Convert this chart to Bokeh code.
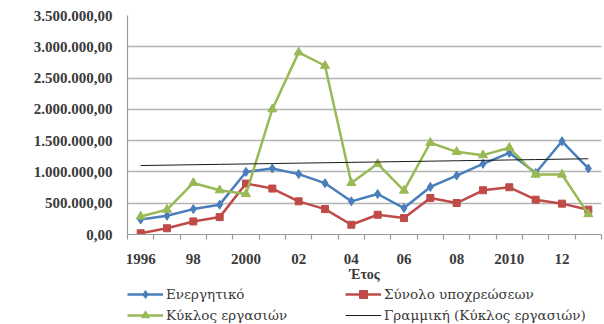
import numpy as np
from bokeh.plotting import figure
from bokeh.layouts import column
from bokeh.models import (FixedTicker, SingleIntervalTicker, CustomJSTickFormatter,
                          Legend, LegendItem, Label)
from bokeh.embed import file_html
from bokeh.resources import INLINE

years = list(range(1996, 2014))
energitiko = [240000, 300000, 406000, 477000, 1000000, 1055000, 965000, 820000, 530000,
              647000, 423000, 760000, 942000, 1129000, 1305000, 984000, 1490000, 1055000]
ypoxreoseis = [20000, 100000, 209000, 278000, 814000, 734000, 530000, 406000, 156000,
               316000, 262000, 583000, 503000, 707000, 755000, 557000, 493000, 397000]
kyklos = [289000, 397000, 824000, 707000, 647000, 2002000, 2911000, 2697000, 824000,
          1129000, 702000, 1466000, 1321000, 1268000, 1386000, 958000, 958000, 326000]
tick_years = [1996, 1998, 2000, 2002, 2004, 2006, 2008, 2010, 2012]
tick_labels = ["1996", "98", "2000", "02", "04", "06", "08", "2010", "12"]

names = ["Ενεργητικό", "Σύνολο υποχρεώσεων", "Κύκλος εργασιών", "Γραμμική (Κύκλος εργασιών)"]

BLUE = "#4A7EBB"
RED = "#BE4B48"
GREEN = "#98B954"
TXT = "#3a3a3a"
SERIF = "Liberation Serif"
LSERIF = "DejaVu Serif"

p = figure(width=604, height=284, output_backend="svg", toolbar_location=None,
           x_range=(1995.5, 2013.5), y_range=(0, 3500000))
p.min_border_left = 127
p.min_border_right = 3
p.min_border_top = 15
p.min_border_bottom = 0
p.outline_line_color = None
p.background_fill_color = "white"
p.border_fill_color = "white"

# grid
p.xgrid.grid_line_color = None
p.ygrid.grid_line_color = "#b4b4b4"
p.ygrid.grid_line_width = 1.5
p.ygrid.ticker = SingleIntervalTicker(interval=500000)

# y axis
p.yaxis.ticker = SingleIntervalTicker(interval=500000)
p.yaxis.formatter = CustomJSTickFormatter(code="""
const s = Math.round(tick).toString().replace(/\\B(?=(\\d{3})+(?!\\d))/g, ".");
return s + ",00";
""")
p.yaxis.axis_line_color = "#9a9a9a"
p.yaxis.axis_line_width = 1.2
p.yaxis.major_tick_line_color = None
p.yaxis.minor_tick_line_color = None
p.yaxis.major_tick_out = 0
p.yaxis.major_tick_in = 0
p.yaxis.minor_tick_out = 0
p.yaxis.major_label_standoff = 15
p.yaxis.major_label_text_font = SERIF
p.yaxis.major_label_text_font_style = "bold"
p.yaxis.major_label_text_font_size = "15px"
p.yaxis.major_label_text_color = TXT

# x axis
bounds = [y - 0.5 for y in years] + [years[-1] + 0.5]
p.xaxis.ticker = FixedTicker(ticks=tick_years, minor_ticks=bounds)
p.xaxis.major_label_overrides = {t: l for t, l in zip(tick_years, tick_labels)}
p.xaxis.axis_line_color = "#9a9a9a"
p.xaxis.axis_line_width = 1.2
p.xaxis.major_tick_line_color = None
p.xaxis.major_tick_out = 0
p.xaxis.major_tick_in = 0
p.xaxis.minor_tick_line_color = "#9a9a9a"
p.xaxis.minor_tick_line_width = 1.2
p.xaxis.minor_tick_out = 5
p.xaxis.minor_tick_in = 0
p.xaxis.major_label_standoff = 14
p.xaxis.major_label_text_font = SERIF
p.xaxis.major_label_text_font_style = "bold"
p.xaxis.major_label_text_font_size = "15px"
p.xaxis.major_label_text_color = TXT
p.xaxis.axis_label = "Έτος"
p.xaxis.axis_label_standoff = 0
p.xaxis.axis_label_text_font = SERIF
p.xaxis.axis_label_text_font_style = "bold"
p.xaxis.axis_label_text_font_size = "14px"
p.xaxis.axis_label_text_color = TXT

# euro label
p.add_layout(Label(x=-114, y=1500000, x_units="screen", y_units="data", text="€",
                   text_font=SERIF, text_font_style="bold", text_font_size="15px",
                   text_color=TXT, text_align="center", text_baseline="middle"))

# trend line (linear regression of Κύκλος εργασιών)
coef = np.polyfit(np.array(years, dtype=float), np.array(kyklos, dtype=float), 1)
trend = list(np.polyval(coef, np.array(years, dtype=float)))

line_styles = [dict(line_color=BLUE, line_width=2.5), dict(line_color=RED, line_width=2.5),
               dict(line_color=GREEN, line_width=2.5), dict(line_color="#1a1a1a", line_width=1)]
marker_styles = [dict(marker="diamond", size=9, color=BLUE),
                 dict(marker="square", size=7, color=RED),
                 dict(marker="triangle", size=9, color=GREEN)]

series = [energitiko, ypoxreoseis, kyklos]
for s, ls, ms in zip(series, line_styles, marker_styles):
    p.line(years, s, **ls)
    p.scatter(years, s, **ms)
p.line(years, trend, **line_styles[3])

# legend strip (separate figure below the chart)
q = figure(width=604, height=40, output_backend="svg", toolbar_location=None,
           x_range=(0, 1), y_range=(0, 1))
q.min_border_left = 0
q.min_border_right = 0
q.min_border_top = 0
q.min_border_bottom = 0
q.axis.visible = False
q.grid.visible = False
q.outline_line_color = None
q.border_fill_color = "white"

# proxy renderers (off-range, only used to draw legend swatches)
proxy = {}
for i in range(4):
    rs = [q.line([-5, -4], [-5, -4], **line_styles[i])]
    if i < 3:
        rs.append(q.scatter([-5], [-5], **marker_styles[i]))
    proxy[i] = rs

# column-major fill: col 1 = items 0, 2 ; col 2 = items 1, 3
order = [0, 2, 1, 3]
items = [LegendItem(label=names[i], renderers=proxy[i]) for i in order]

legend = Legend(items=items, ncols=2, location=(0, -1), padding=0, margin=0, spacing=1,
                glyph_width=36, glyph_height=20, label_height=20, label_width=178,
                label_standoff=3, border_line_color=None, background_fill_alpha=0,
                label_text_font=LSERIF, label_text_font_size="13.5px", label_text_color=TXT)
q.add_layout(legend, "center")

layout = column(p, q, spacing=0)
open("out.html", "w").write(file_html(layout, INLINE))
